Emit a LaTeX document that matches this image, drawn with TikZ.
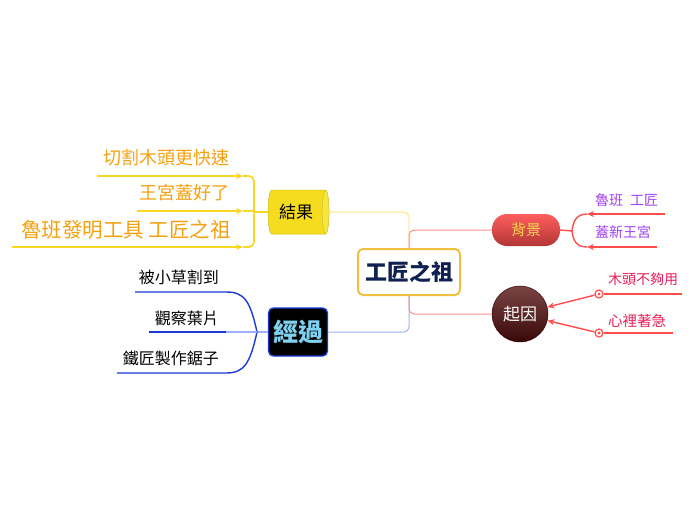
\documentclass[tikz,border=0pt]{standalone}
\usepackage{fontspec}
\setmainfont{Noto Sans CJK TC}
\usetikzlibrary{arrows.meta,shapes.geometric}
\definecolor{navy}{HTML}{102050}
\definecolor{gold}{HTML}{F0C040}
\definecolor{ylw}{HTML}{F8D820}
\definecolor{cylbody}{HTML}{F5DC1E}
\definecolor{cylend}{HTML}{F8E640}
\definecolor{orng}{HTML}{F5A010}
\definecolor{blu}{HTML}{1A3AD8}
\definecolor{ltblu}{HTML}{A0B0FF}
\definecolor{ltyl}{HTML}{FFE880}
\definecolor{ltpk}{HTML}{FF8C8C}
\definecolor{rd}{HTML}{FF4C4C}
\definecolor{purp}{HTML}{A040F0}
\definecolor{crim}{HTML}{E8205A}
\definecolor{cyan2}{HTML}{80D0F0}
\definecolor{bgtxt}{HTML}{F5D850}
\definecolor{cautop}{HTML}{7A4444}
\definecolor{caubot}{HTML}{3A0808}
\tikzset{
  fs/.style={font=\fontsize{#1}{#1}\selectfont},
  leaf/.style={inner sep=0pt},
  ybr/.style={draw=ylw,line width=1.6pt},
  yarr/.style={draw=ylw,line width=1.6pt,-{Stealth[length=7pt,width=6pt]}},
  bbr/.style={draw=blu,line width=1.4pt},
  rbr/.style={draw=rd,line width=1.4pt},
  rarr/.style={draw=rd,line width=1.4pt,-{Stealth[length=7pt,width=6pt]}},
  marker/.style={circle,draw=rd,fill=white,line width=1.2pt,inner sep=0pt,minimum size=8pt},
}
\begin{document}
\begin{tikzpicture}[x=1pt,y=-1pt]
\useasboundingbox (0,0) rectangle (696,520);
% central
\node[draw=gold,line width=2pt,fill=white,rounded corners=5pt,minimum width=102pt,minimum height=46pt,text=navy,font=\fontsize{22}{22}\selectfont\bfseries] (c) at (409,272) {工匠之祖};
% main topics
\node[cylinder,shape border rotate=0,aspect=0.35,minimum height=61pt,minimum width=44pt,cylinder uses custom fill,cylinder body fill=cylbody,cylinder end fill=cylend,draw=cylbody!85!black,line width=0.5pt,fs=17,inner sep=2pt] (res) at (296,212) {結果};
\node[draw=blu,line width=1.4pt,fill=black,rounded corners=5pt,minimum width=59pt,minimum height=48pt,text=cyan2,font=\fontsize{25}{25}\selectfont\bfseries] (proc) at (298,332) {經過};
\node[rounded corners=15pt,minimum width=68pt,minimum height=32pt,top color=rd!90!white,bottom color=rd!70!black,text=bgtxt,fs=15] (bg) at (526,230) {背景};
\node[circle,minimum size=56pt,top color=cautop,bottom color=caubot,draw=caubot,line width=0.5pt,text=white,fs=17] (cause) at (520,314) {起因};
% central connectors
\draw[ltyl,line width=1pt,rounded corners=5pt] (c.north) |- (res.east);
\draw[ltpk,line width=1pt,rounded corners=5pt] (c.north) |- (bg.west);
\draw[ltblu,line width=1pt,rounded corners=5pt] (c.south) |- (proc.east);
\draw[ltpk,line width=1pt,rounded corners=5pt] (c.south) |- (cause.west);
% 結果 leaves
\node[leaf,anchor=east,text=orng,fs=18] (r1) at (230,158) {切割木頭更快速};
\node[leaf,anchor=east,text=orng,fs=18] (r2) at (230,193) {王宮蓋好了};
\node[leaf,anchor=east,text=orng,fs=20.5] (r3) at (231,230) {魯班發明工具 工匠之祖};
\coordinate (ry1s) at (97,176); \coordinate (ry1e) at (243,176);
\coordinate (ry2s) at (137,211); \coordinate (ry2e) at (243,211);
\coordinate (ry3s) at (12,247); \coordinate (ry3e) at (243,247);
\coordinate (rj) at (254,212);
\draw[ybr] (res.west) -- (rj);
\draw[ybr,rounded corners=5pt] (ry1e) -- (254,176) -- (254,247) -- (ry3e);
\draw[ybr] (ry2e) -- (254,211);
\draw[yarr] (ry1s) -- (ry1e);
\draw[yarr] (ry2s) -- (ry2e);
\draw[yarr] (ry3s) -- (ry3e);
% 經過 leaves
\node[leaf,anchor=east,fs=16] (p1) at (219,277) {被小草割到};
\node[leaf,anchor=east,fs=16] (p2) at (219,318) {觀察葉片};
\node[leaf,anchor=east,fs=16] (p3) at (219,358) {鐵匠製作鋸子};
\coordinate (pj) at (257,332);
\coordinate (pb1) at (226,292); \coordinate (pa1) at (135,292);
\coordinate (pb2) at (226,332); \coordinate (pa2) at (149,332);
\coordinate (pb3) at (226,373); \coordinate (pa3) at (117,373);
\draw[ltblu,line width=1.4pt] (proc.west) -- (pj);
\draw[bbr] (pj) .. controls (250,300) and (244,292) .. (pb1) -- (pa1);
\draw[bbr] (pj) .. controls (250,364) and (244,373) .. (pb3) -- (pa3);
\draw[ltblu,line width=1.4pt] (pj) -- (pb2);
\draw[bbr] (pb2) -- (pa2);
% 背景 leaves
\node[leaf,anchor=west,text=purp,fs=14] (b1) at (595,200) {魯班\hspace{0.5em}工匠};
\node[leaf,anchor=west,text=purp,fs=14] (b2) at (595,232) {蓋新王宮};
\coordinate (bj) at (572,231);
\coordinate (bt1) at (587,214); \coordinate (be1) at (665,214);
\coordinate (bt2) at (587,247); \coordinate (be2) at (657,247);
\draw[rbr] (bg.east) -- (bj);
\draw[rbr] (bt1) .. controls (576,214) and (573,222) .. (bj) .. controls (573,240) and (576,247) .. (bt2);
\draw[rarr] (be1) -- (bt1);
\draw[rarr] (be2) -- (bt2);
% 起因 leaves
\node[leaf,anchor=west,text=crim,fs=14] (q1) at (608,279) {木頭不夠用};
\node[leaf,anchor=west,text=crim,fs=14.5] (q2) at (608,321) {心裡著急};
\node[marker] (m1) at (599,294) {};
\node[marker] (m2) at (599,333) {};
\fill[rd] (m1) circle[radius=1.6pt];
\fill[rd] (m2) circle[radius=1.6pt];
\coordinate (e1) at (682,294);
\coordinate (e2) at (673,333);
\draw[rbr] (m1) -- (e1);
\draw[rbr] (m2) -- (e2);
\draw[rarr] (m1) -- (cause);
\draw[rarr] (m2) -- (cause);
\end{tikzpicture}
\end{document}
